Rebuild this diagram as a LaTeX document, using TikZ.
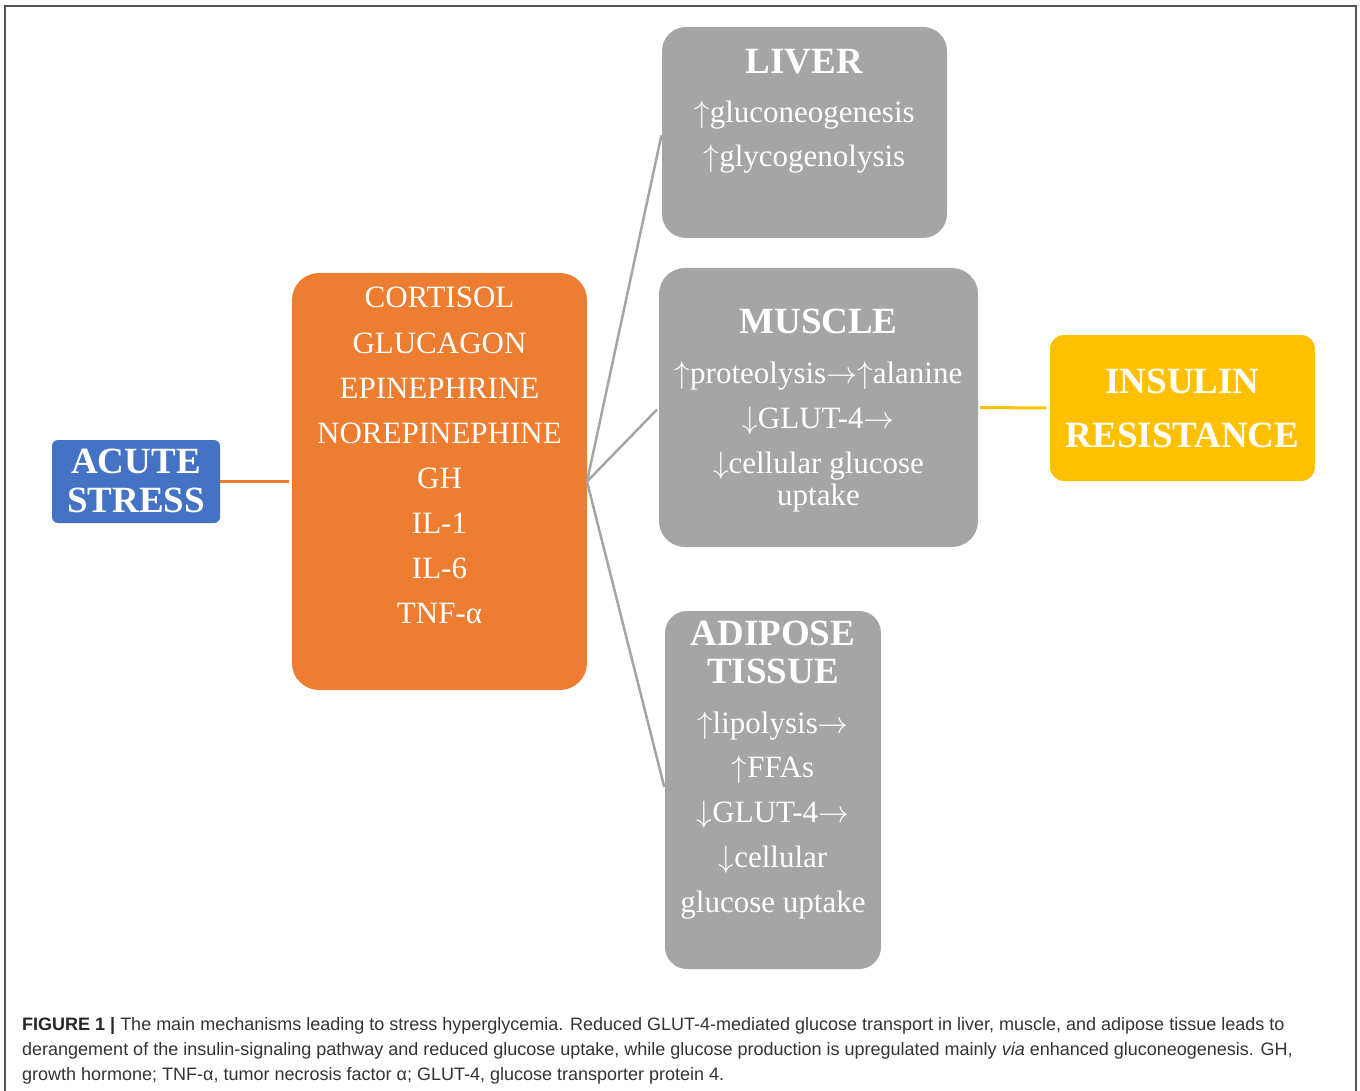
\documentclass[tikz,border=0pt]{standalone}
\usepackage{graphicx}
\usepackage{fontspec}
\setmainfont{Liberation Serif}
\newfontfamily\capfont{Liberation Sans}
\definecolor{cblue}{HTML}{4472C4}
\definecolor{corange}{HTML}{ED7D31}
\definecolor{cgray}{HTML}{A5A5A5}
\definecolor{cyellow}{HTML}{FFC000}
\definecolor{cframe}{HTML}{555555}
\definecolor{ctext}{HTML}{333333}
\newcommand{\bigsym}[1]{\scalebox{3.1}{\fontsize{10}{12}\selectfont$#1$}}
\newcommand{\upar}{\bigsym{\uparrow}}
\newcommand{\dnar}{\bigsym{\downarrow}}
\newcommand{\rtar}{\bigsym{\rightarrow}}
\begin{document}
\begin{tikzpicture}[x=1pt,y=-1pt,
  box/.style={inner sep=0pt, outer sep=0pt, draw=none},
  wtxt/.style={text=white, anchor=base, inner sep=0pt},
  reg/.style={wtxt, font=\fontsize{31}{36}\selectfont},
  ttl/.style={wtxt, font=\fontsize{37}{40}\selectfont\bfseries},
  link/.style={line width=2.5pt, draw=cgray, shorten >=3pt},
  captxt/.style={anchor=base west, inner sep=0pt, text=ctext, font=\capfont\fontsize{18}{20}\selectfont}]
\useasboundingbox (0,0) rectangle (1360,1091);
% frame
\draw[cframe, line width=1.5pt] (5,1095) -- (5,6) -- (1356,6) -- (1356,1095);
% boxes
\node[box, fill=cblue, minimum width=168pt, minimum height=83pt, rounded corners=6pt] (acute) at (136,481.5) {};
\node[box, fill=corange, minimum width=295pt, minimum height=417pt, rounded corners=27pt] (horm) at (439.5,481.5) {};
\node[box, fill=cgray, minimum width=285pt, minimum height=211pt, rounded corners=24pt] (liver) at (804.5,132.5) {};
\node[box, fill=cgray, minimum width=319pt, minimum height=279pt, rounded corners=26pt] (muscle) at (818.5,407.5) {};
\node[box, fill=cgray, minimum width=216pt, minimum height=358pt, rounded corners=22pt] (adipose) at (773,790) {};
\node[box, fill=cyellow, minimum width=265pt, minimum height=146pt, rounded corners=14pt] (insulin) at (1182.5,408) {};
% connectors
\draw[corange, line width=3pt, shorten >=3pt] (acute.east) -- (horm.west);
\draw[link] (horm.east) -- (liver.west);
\draw[link] (horm.east) -- (muscle.west);
\draw[link] (horm.east) -- (adipose.west);
\draw[cyellow, line width=3pt, shorten <=2pt, shorten >=4pt] (muscle.east) -- (insulin.west);
% acute stress text
\node[ttl] (t-acute1) at (136,473) {ACUTE};
\node[ttl] (t-acute2) at (136,512) {STRESS};
% hormones
\node[reg] (h1) at (439.5,308) {CORTISOL};
\node[reg] (h2) at (439.5,353) {GLUCAGON};
\node[reg] (h3) at (439.5,398) {EPINEPHRINE};
\node[reg] (h4) at (439.5,443) {NOREPINEPHINE};
\node[reg] (h5) at (439.5,488) {GH};
\node[reg] (h6) at (439.5,533) {IL-1};
\node[reg] (h7) at (439.5,578) {IL-6};
\node[reg] (h8) at (439.5,623) {TNF-α};
% liver
\node[ttl] (l0) at (804.5,74) {LIVER};
\node[reg] (l1) at (804.5,123) {\upar gluconeogenesis};
\node[reg] (l2) at (804.5,167) {\upar glycogenolysis};
% muscle
\node[ttl] (m0) at (818.5,334) {MUSCLE};
\node[reg] (m1) at (818.5,383) {\upar proteolysis\rtar\upar alanine};
\node[reg] (m2) at (818.5,428) {\dnar GLUT-4\rtar};
\node[reg] (m3) at (818.5,473) {\dnar cellular glucose};
\node[reg] (m4) at (818.5,505) {uptake};
% adipose
\node[ttl] (a0) at (773,645) {ADIPOSE};
\node[ttl] (a1) at (773,683) {TISSUE};
\node[reg] (a2) at (773,733) {\upar lipolysis\rtar};
\node[reg] (a3) at (773,777) {\upar FFAs};
\node[reg] (a4) at (773,822) {\dnar GLUT-4\rtar};
\node[reg] (a5) at (773,867) {\dnar cellular};
\node[reg] (a6) at (773,912) {glucose uptake};
% insulin resistance
\node[ttl] (i1) at (1182.5,393) {INSULIN};
\node[ttl] (i2) at (1182.5,447) {RESISTANCE};
% caption
\node[captxt] (c1) at (22,1030) {{\color{black!85}\bfseries FIGURE 1 |} The main mechanisms leading to stress hyperglycemia. Reduced GLUT-4-mediated glucose transport in liver, muscle, and adipose tissue leads to};
\node[captxt] (c2) at (22,1055) {derangement of the insulin-signaling pathway and reduced glucose uptake, while glucose production is upregulated mainly \textit{via} enhanced gluconeogenesis. GH,};
\node[captxt] (c3) at (22,1080) {growth hormone; TNF-α, tumor necrosis factor α; GLUT-4, glucose transporter protein 4.};
\end{tikzpicture}
\end{document}
